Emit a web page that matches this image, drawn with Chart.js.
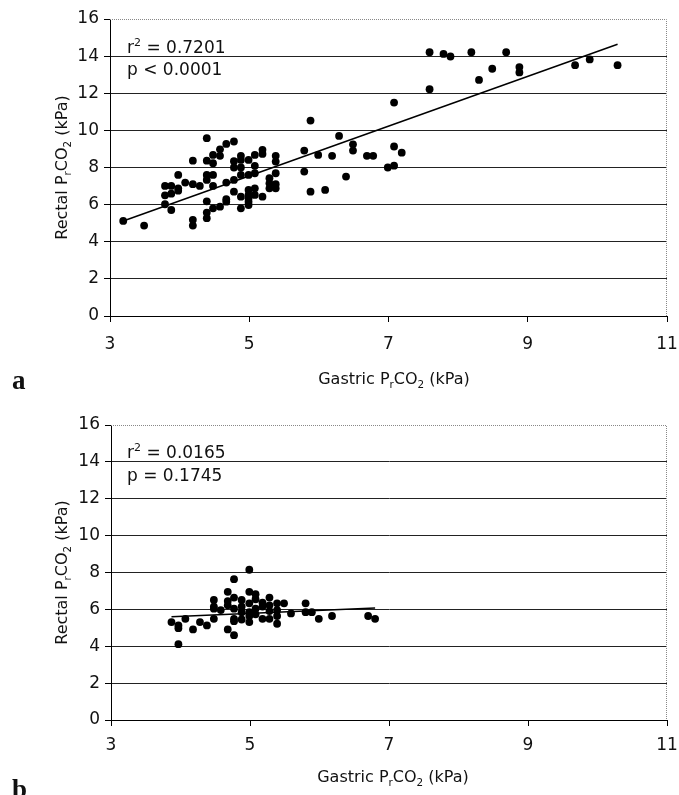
<!DOCTYPE html>
<html><head><meta charset="utf-8">
<script src="https://cdn.jsdelivr.net/npm/chart.js@4.4.0/dist/chart.umd.min.js"></script>
<style>
html,body{margin:0;padding:0;background:#fff;}
body{width:679px;height:795px;position:relative;overflow:hidden;}
.box{position:absolute;left:0;width:679px;}
#boxA{top:0;height:400px;}
#boxB{top:400px;height:395px;}
</style></head><body>
<div class="box" id="boxA"><canvas id="cA"></canvas></div>
<div class="box" id="boxB"><canvas id="cB"></canvas></div>
<script>
const xTicks=[3,5,7,9,11];
const yTicks=[0,2,4,6,8,10,12,14,16];

// Panel a: gastric vs rectal PrCO2 (kPa)
const gastricA=[3.19,3.49,3.79,3.88,3.79,3.88,3.79,3.88,3.98,3.98,3.98,4.08,4.19,4.19,4.29,4.19,4.19,
4.39,4.39,4.39,4.39,4.39,4.39,4.39,4.48,4.48,4.48,4.48,4.48,4.58,4.58,4.58,4.67,4.67,4.67,4.67,
4.78,4.78,4.78,4.78,4.78,4.88,4.88,4.88,4.88,4.88,4.88,4.99,4.99,4.99,4.99,4.99,4.99,4.99,
5.08,5.08,5.08,5.08,5.08,5.19,5.19,5.19,5.29,5.29,5.29,5.38,5.38,5.38,5.38,5.38,
5.79,5.79,5.88,5.88,5.99,6.09,6.19,6.29,6.39,6.49,6.49,6.69,6.78,6.99,7.08,7.08,7.08,7.19,
7.59,7.59,7.79,7.89,8.19,8.30,8.49,8.69,8.88,8.88,9.68,9.89,10.29];
const rectalA=[5.12,4.87,7.01,7.01,6.50,6.59,6.02,5.71,7.60,6.88,6.75,7.19,8.37,7.10,7.01,5.18,4.87,
9.58,8.37,7.60,7.33,6.18,5.57,5.27,8.68,8.23,7.60,7.01,5.80,8.98,8.63,5.89,9.27,7.19,6.29,6.16,
9.40,8.34,8.00,7.33,6.70,8.63,8.41,8.00,7.60,6.43,5.80,8.41,7.60,6.79,6.52,6.34,6.16,5.98,
8.68,8.09,7.69,6.88,6.52,8.95,8.73,6.43,7.42,7.15,6.88,8.63,8.32,7.69,7.10,6.88,
8.91,7.78,10.53,6.70,8.68,6.79,8.63,9.70,7.51,9.25,8.91,8.63,8.63,8.00,11.50,9.13,8.10,8.80,
14.21,12.22,14.12,13.98,14.21,12.72,13.32,14.21,13.41,13.12,13.51,13.82,13.51];
const trendAx=[3.19,10.29];
const trendAy=[5.12,14.64];

// Panel b
const gastricB=[3.87,3.97,3.97,3.97,4.07,4.18,4.28,4.38,4.48,4.48,4.48,4.48,4.58,4.68,4.68,4.68,4.68,
4.77,4.77,4.77,4.77,4.77,4.77,4.88,4.88,4.88,4.88,4.99,4.99,4.99,4.99,4.99,4.99,
5.08,5.08,5.08,5.08,5.18,5.18,5.18,5.28,5.28,5.28,5.28,5.39,5.39,5.39,5.39,5.49,5.59,
5.80,5.80,5.89,5.99,6.18,6.70,6.80];
const rectalB=[5.31,5.13,4.98,4.11,5.49,4.91,5.31,5.13,6.51,6.15,6.04,5.49,5.96,6.95,6.45,6.22,4.91,
7.64,6.64,6.04,5.49,5.36,4.60,6.51,6.15,5.85,5.45,8.15,6.95,6.33,5.85,5.64,5.31,
6.82,6.55,6.04,5.73,6.36,6.15,5.49,6.64,6.22,5.91,5.49,6.33,5.96,5.64,5.22,6.33,5.78,
6.33,5.85,5.85,5.49,5.64,5.64,5.49];
const trendBx=[3.87,6.80];
const trendBy=[5.60,6.07];

const sub=(t)=>({t,sub:true});
const sup=(t)=>({t,sup:true});
const xTitleParts=[{t:'Gastric P'},sub('r'),{t:'CO'},sub('2'),{t:' (kPa)'}];
const yTitleParts=[{t:'Rectal P'},sub('r'),{t:'CO'},sub('2'),{t:' (kPa)'}];

function measureParts(ctx,parts,size,family){
  let w=0;
  for(const p of parts){
    const s=(p.sub||p.sup)?size*0.65:size;
    ctx.font=s+'px '+family;
    w+=ctx.measureText(p.t).width;
  }
  return w;
}
function drawParts(ctx,parts,x,y,size,family){
  let cx=x;
  ctx.textBaseline='alphabetic';
  ctx.textAlign='left';
  for(const p of parts){
    const s=(p.sub||p.sup)?size*0.65:size;
    ctx.font=s+'px '+family;
    let dy=0;
    if(p.sub) dy=size*0.22;
    if(p.sup) dy=-size*0.42;
    ctx.fillText(p.t,cx,y+dy);
    cx+=ctx.measureText(p.t).width;
  }
}

const FAM='"DejaVu Sans", Verdana, sans-serif';

const decor={
  id:'decor',
  beforeDatasetsDraw(chart,args,o){
    const ctx=chart.ctx, a=chart.chartArea;
    ctx.save();
    ctx.strokeStyle='#888';
    ctx.lineWidth=1;
    ctx.setLineDash([1,1]);
    ctx.beginPath();
    ctx.moveTo(a.left,a.top+0.5);
    ctx.lineTo(a.right-0.5,a.top+0.5);
    ctx.lineTo(a.right-0.5,a.bottom);
    ctx.stroke();
    ctx.restore();
  },
  afterDraw(chart,args,o){
    const ctx=chart.ctx, a=chart.chartArea;
    ctx.save();
    ctx.fillStyle='#111';
    const w=measureParts(ctx,xTitleParts,o.tsize,FAM);
    drawParts(ctx,xTitleParts,o.xtx-w/2,o.xty,o.tsize,FAM);
    ctx.save();
    ctx.translate(o.ytx,(a.top+a.bottom)/2);
    ctx.rotate(-Math.PI/2);
    const wy=measureParts(ctx,yTitleParts,o.tsize,FAM);
    drawParts(ctx,yTitleParts,-wy/2,0,o.tsize,FAM);
    ctx.restore();
    drawParts(ctx,[{t:'r'},sup('2'),{t:' = '+o.r2}],o.ax,o.ay1,17,FAM);
    drawParts(ctx,[{t:o.p}],o.ax,o.ay2,17,FAM);
    ctx.font='bold 27px "Liberation Serif", "Times New Roman", serif';
    ctx.textAlign='left';
    ctx.textBaseline='alphabetic';
    ctx.fillText(o.letter,o.lx,o.ly);
    ctx.restore();
  }
};

function makeChart(id,gx,ry,tx,ty,pad,yW,xH,xPad,deco){
  const pts=gx.map((x,i)=>({x,y:ry[i]}));
  const tr=tx.map((x,i)=>({x,y:ty[i]}));
  return new Chart(document.getElementById(id),{
    type:'scatter',
    data:{datasets:[
      {data:tr,showLine:true,borderColor:'#000',borderWidth:1.5,pointRadius:0,fill:false,order:2},
      {data:pts,pointRadius:3.9,pointBackgroundColor:'#000',pointBorderColor:'#000',pointBorderWidth:0,order:1}
    ]},
    options:{
      responsive:true,maintainAspectRatio:false,animation:false,
      layout:{padding:pad},
      plugins:{legend:{display:false},tooltip:{enabled:false},decor:deco},
      scales:{
        x:{type:'linear',min:3,max:11,
          afterBuildTicks(s){s.ticks=xTicks.map(v=>({value:v}));},
          afterFit(s){s.height=xH;s.paddingLeft=0;s.paddingRight=0;},
          grid:{drawOnChartArea:false,drawTicks:true,tickLength:6,color:'#000',tickColor:'#000'},
          border:{color:'#000',width:1},
          ticks:{color:'#111',font:{family:FAM,size:17},padding:xPad,maxRotation:0}
        },
        y:{type:'linear',min:0,max:16,
          afterBuildTicks(s){s.ticks=yTicks.map(v=>({value:v}));},
          afterFit(s){s.width=yW;s.paddingTop=0;s.paddingBottom=0;},
          grid:{color:(c)=>c.tick&&c.tick.value===16?'rgba(0,0,0,0)':'#222',lineWidth:1,drawTicks:true,tickLength:6,tickColor:'#000'},
          border:{color:'#000',width:1},
          ticks:{color:'#111',font:{family:FAM,size:17},padding:5}
        }
      }
    },
    plugins:[decor]
  });
}

makeChart('cA',gastricA,rectalA,trendAx,trendAy,{top:19,right:12,left:0,bottom:0},110,84,12,
  {tsize:16,xtx:394,xty:384,ytx:67,r2:'0.7201',p:'p < 0.0001',ax:127,ay1:53,ay2:75,letter:'a',lx:12,ly:389});
makeChart('cB',gastricB,rectalB,trendBx,trendBy,{top:25,right:12,left:0,bottom:0},111,75,9,
  {tsize:16,xtx:393,xty:382,ytx:67,r2:'0.0165',p:'p = 0.1745',ax:127,ay1:58,ay2:81,letter:'b',lx:12,ly:398});
</script>
</body></html>
